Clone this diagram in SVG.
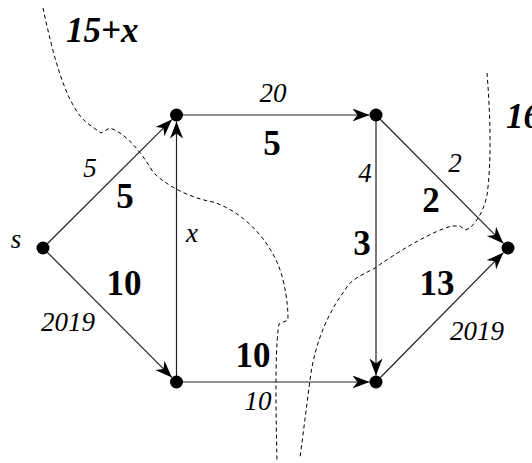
<svg xmlns="http://www.w3.org/2000/svg" width="532" height="463" viewBox="0 0 532 463">
<style>
.edge{stroke:#222;stroke-width:1.2;fill:none}
.cut{stroke:#000;stroke-width:1;fill:none;stroke-dasharray:4,3}
.node{fill:#000}
.it{font-family:"Liberation Serif","Times New Roman",serif;font-style:italic;font-size:27px;fill:#000;text-anchor:middle}
.bd{font-family:"Liberation Serif","Times New Roman",serif;font-weight:bold;font-size:35px;fill:#000;text-anchor:middle}
.cap{font-family:"Liberation Serif","Times New Roman",serif;font-weight:bold;font-style:italic;font-size:35px;fill:#000}
</style>
<defs>
<marker id="arr" markerUnits="userSpaceOnUse" markerWidth="18" markerHeight="14" refX="17" refY="6.5" orient="auto" viewBox="0 0 18 14">
<path d="M17,6.5 L0,0 L5,6.5 L0,13 Z" fill="#000"/>
</marker>
</defs>
<rect width="532" height="463" fill="#fff"/>
<g id="cuts">
<path class="cut" d="M43,8 C52,50 65,105 87,123 L101,133 L110,128 C125,133 140,150 153,172 C165,185 190,198 213,202 C245,212 275,245 283,280 C288,300 288,315 288,320 L279,324 C276,340 275,380 277,460"/>
<path class="cut" d="M487,73 C490,110 492,160 487,195 C484,210 478,220 470,228 L465,230 L460,226 L452,226 C435,230 400,250 375,268 C360,276 350,280 345,290 C330,310 315,340 310,380 L300,458"/>
</g>
<g id="connectors">
<line class="edge" x1="43" y1="248" x2="171.9" y2="119.6" marker-end="url(#arr)"/>
<line class="edge" x1="43" y1="248" x2="171.9" y2="377.4" marker-end="url(#arr)"/>
<line class="edge" x1="176.5" y1="382" x2="176.5" y2="121.5" marker-end="url(#arr)"/>
<line class="edge" x1="176.5" y1="115" x2="369.5" y2="115" marker-end="url(#arr)"/>
<line class="edge" x1="376" y1="115" x2="376" y2="375.5" marker-end="url(#arr)"/>
<line class="edge" x1="376" y1="115" x2="503.4" y2="243.4" marker-end="url(#arr)"/>
<line class="edge" x1="176.5" y1="382" x2="369.5" y2="382" marker-end="url(#arr)"/>
<line class="edge" x1="376" y1="382" x2="503.4" y2="252.6" marker-end="url(#arr)"/>
</g>
<g id="labels">
<text class="it" x="90" y="177">5</text>
<text class="bd" x="125" y="208">5</text>
<text class="it" x="273" y="102">20</text>
<text class="bd" x="272" y="155">5</text>
<text class="it" x="365" y="182">4</text>
<text class="it" x="455" y="172">2</text>
<text class="bd" x="431" y="212">2</text>
<text class="bd" x="362" y="255">3</text>
<text class="it" x="192" y="242">x</text>
<text class="bd" x="124" y="295">10</text>
<text class="it" x="68" y="331">2019</text>
<text class="bd" x="253" y="367">10</text>
<text class="it" x="258" y="410">10</text>
<text class="bd" x="437" y="295">13</text>
<text class="it" x="477" y="340">2019</text>
<text class="cap" x="66" y="42">15+x</text>
<text class="cap" x="506" y="128">16</text>
</g>
<g id="node-s"><circle class="node" cx="43" cy="248" r="6.5"/><text class="it" x="16" y="248">s</text></g>
<g id="node-a"><circle class="node" cx="176.5" cy="115" r="6.5"/></g>
<g id="node-b"><circle class="node" cx="376" cy="115" r="6.5"/></g>
<g id="node-c"><circle class="node" cx="176.5" cy="382" r="6.5"/></g>
<g id="node-d"><circle class="node" cx="376" cy="382" r="6.5"/></g>
<g id="node-t"><circle class="node" cx="508" cy="248" r="6.5"/></g>
</svg>
